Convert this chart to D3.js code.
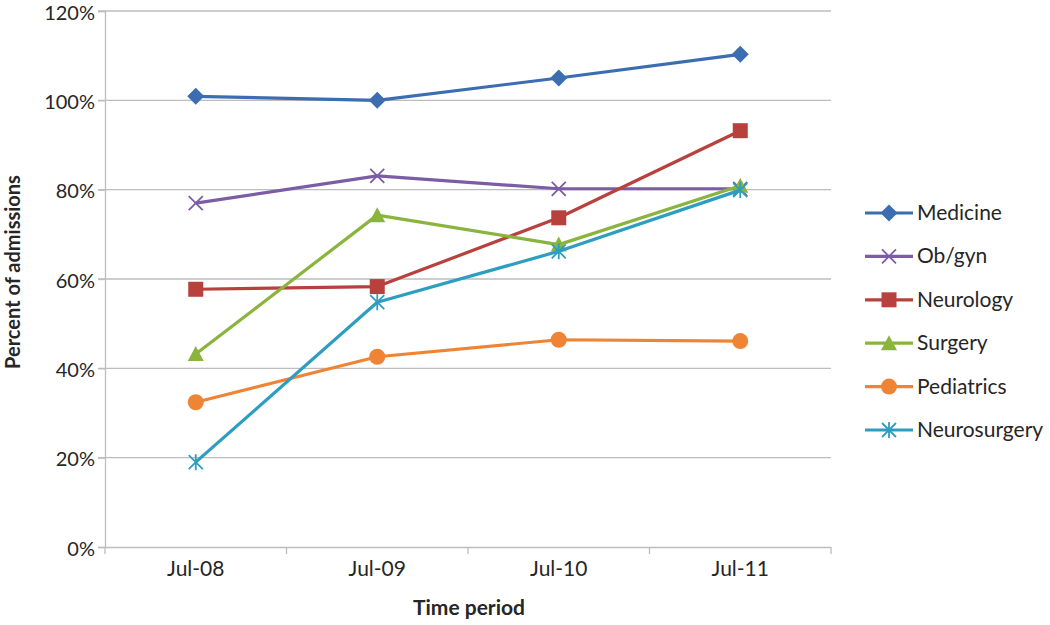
<!DOCTYPE html>
<html><head><meta charset="utf-8">
<script src="https://cdn.jsdelivr.net/npm/d3@7"></script>
<style>body{margin:0;background:#fff}svg{display:block}text{font-family:Lato,"Open Sans",sans-serif;fill:#262626}</style>
</head><body><svg id="c" width="1050" height="625"></svg>
<script>
const categories = ["Jul-08","Jul-09","Jul-10","Jul-11"];
const seriesNames = ["Medicine","Ob/gyn","Neurology","Surgery","Pediatrics","Neurosurgery"];
const medicine = [100.9, 100.0, 105.0, 110.3];
const obgyn = [77.0, 83.1, 80.2, 80.2];
const neurology = [57.7, 58.3, 73.7, 93.2];
const surgery = [43.2, 74.3, 67.7, 80.9];
const pediatrics = [32.4, 42.6, 46.4, 46.1];
const neurosurgery = [19.0, 54.8, 66.2, 79.9];
const yTicks = [0,20,40,60,80,100,120];
const colors = ["#3C6DB0","#7C5DA5","#B8403D","#8AB43E","#EE8434","#2E9EC0"];
const markers = ["diamond","x","square","triangle","circle","asterisk"];
const values = [medicine, obgyn, neurology, surgery, pediatrics, neurosurgery];

const FS = 21;
const svg = d3.select("#c");
const x = d3.scaleBand().domain(categories).range([105, 831]);
const y = d3.scaleLinear().domain([0,120]).range([547, 11]);

svg.append("g").selectAll("line").data(yTicks.filter(d=>d>0)).join("line")
  .attr("x1",98).attr("x2",831).attr("y1",d=>y(d)).attr("y2",d=>y(d))
  .attr("stroke","#BDBDBD").attr("stroke-width",1.3);

const ya = svg.append("g").attr("transform","translate(105,0)")
  .call(d3.axisLeft(y).tickValues(yTicks).tickFormat(d=>d+"%").tickSize(7).tickPadding(3));
ya.select(".domain").attr("stroke","#BDBDBD").attr("stroke-width",1.3);
ya.selectAll(".tick line").attr("stroke","#BDBDBD").attr("stroke-width",1.3);
ya.selectAll("text").attr("font-size",20).attr("dy","0.4em").attr("fill","#262626").attr("font-family","Lato,sans-serif");

const xa = svg.append("g").attr("transform","translate(0,547)")
  .call(d3.axisBottom(x).tickSize(0).tickPadding(14));
xa.select(".domain").attr("stroke","#BDBDBD").attr("stroke-width",1.3);
xa.selectAll("text").attr("font-size",FS).attr("fill","#262626").attr("font-family","Lato,sans-serif");
const xb = x.range().concat(categories.slice(1).map(c=>x(c)));
svg.append("g").selectAll("line").data(xb).join("line")
  .attr("x1",d=>d).attr("x2",d=>d).attr("y1",547).attr("y2",554)
  .attr("stroke","#BDBDBD").attr("stroke-width",1.3);

svg.append("text").attr("x",469).attr("y",615).attr("text-anchor","middle")
  .attr("font-size",FS).attr("font-weight","bold").text("Time period");
svg.append("text").attr("transform","translate(20,272) rotate(-90)").attr("text-anchor","middle")
  .attr("font-size",FS-1).attr("font-weight","bold").text("Percent of admissions");

function drawMarker(g, type, color){
  if(type==="diamond") g.append("path").attr("d","M0,-8.5L8.5,0L0,8.5L-8.5,0Z").attr("fill",color);
  else if(type==="square") g.append("rect").attr("x",-7.5).attr("y",-7.5).attr("width",15).attr("height",15).attr("fill",color);
  else if(type==="triangle") g.append("path").attr("d","M0,-8L8,7L-8,7Z").attr("fill",color);
  else if(type==="circle") g.append("circle").attr("r",8).attr("fill",color);
  else if(type==="x") g.append("path").attr("d","M-7,-7L7,7M-7,7L7,-7").attr("stroke",color).attr("stroke-width",1.8).attr("fill","none");
  else if(type==="asterisk") g.append("path").attr("d","M-7,-7L7,7M-7,7L7,-7M0,-8L0,8").attr("stroke",color).attr("stroke-width",1.8).attr("fill","none");
}

const cx = c => x(c) + x.bandwidth()/2;
const line = d3.line().x((d,i)=>cx(categories[i])).y(d=>y(d));
values.forEach((vals,si)=>{
  const g = svg.append("g");
  g.append("path").attr("d",line(vals)).attr("fill","none").attr("stroke",colors[si]).attr("stroke-width",3.2).attr("stroke-linejoin","round");
  vals.forEach((v,i)=>{
    const m = g.append("g").attr("transform",`translate(${cx(categories[i])},${y(v)})`);
    drawMarker(m, markers[si], colors[si]);
  });
});

const lg = svg.append("g").attr("transform","translate(865,213)");
seriesNames.forEach((n,i)=>{
  const r = lg.append("g").attr("transform",`translate(0,${i*43.4})`);
  r.append("line").attr("x1",0).attr("x2",48).attr("stroke",colors[i]).attr("stroke-width",3.2);
  const m = r.append("g").attr("transform","translate(24,0)");
  drawMarker(m, markers[i], colors[i]);
  r.append("text").attr("x",52).attr("y",7).attr("font-size",FS).text(n);
});
</script></body></html>
